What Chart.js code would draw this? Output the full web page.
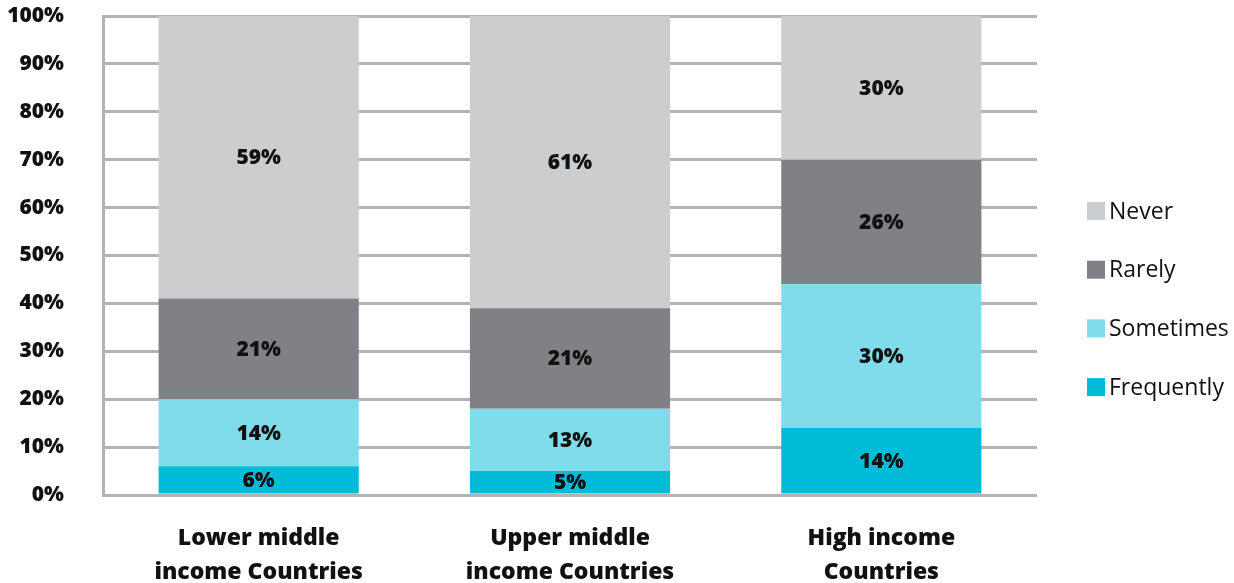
<!DOCTYPE html>
<html>
<head>
<meta charset="utf-8">
<script src="https://cdn.jsdelivr.net/npm/chart.js@4/dist/chart.umd.min.js"></script>
<style>
  html, body { margin: 0; padding: 0; background: #ffffff; }
  #wrap { width: 1234px; height: 583px; position: relative; }
</style>
</head>
<body>
<div id="wrap"><canvas id="c"></canvas></div>
<script>
const categories = [["Lower middle", "income Countries"], ["Upper middle", "income Countries"], ["High income", "Countries"]];
const frequently = [6, 5, 14];
const sometimes = [14, 13, 30];
const rarely = [21, 21, 26];
const never = [59, 61, 30];
const yTicks = [0, 10, 20, 30, 40, 50, 60, 70, 80, 90, 100];

const colors = {
  Frequently: '#00bcd9',
  Sometimes: '#80dcea',
  Rarely: '#808185',
  Never: '#cccdcf'
};
const gridColor = '#b2b3b7';
const FONT = '"Open Sans", "DejaVu Sans", sans-serif';

const barLabels = {
  id: 'barLabels',
  afterDatasetsDraw(chart) {
    const ctx = chart.ctx;
    ctx.save();
    ctx.font = '800 21px ' + FONT;
    ctx.fillStyle = '#111111';
    ctx.textAlign = 'center';
    ctx.textBaseline = 'middle';
    chart.data.datasets.forEach((ds, i) => {
      const meta = chart.getDatasetMeta(i);
      meta.data.forEach((el, j) => {
        const p = el.getProps(['x', 'y', 'base'], true);
        ctx.fillText(ds.data[j] + '%', p.x, (p.y + p.base) / 2 + 1);
      });
    });
    ctx.restore();
  }
};

const sideLegend = {
  id: 'sideLegend',
  afterDraw(chart) {
    const ctx = chart.ctx;
    const area = chart.chartArea;
    const items = chart.data.datasets.slice().reverse();
    const x0 = area.right + 50;
    const yStart = area.top + 195;
    const step = 58.7;
    const box = 18;
    ctx.save();
    ctx.font = '23px ' + FONT;
    ctx.textAlign = 'left';
    ctx.textBaseline = 'middle';
    items.forEach((ds, k) => {
      const cy = yStart + k * step;
      ctx.fillStyle = ds.backgroundColor;
      ctx.fillRect(x0, cy - box / 2, box, box);
      ctx.fillStyle = '#111111';
      ctx.fillText(ds.label, x0 + box + 4, cy + 1);
    });
    ctx.restore();
  }
};

const mk = (label, data) => ({
  label, data,
  backgroundColor: colors[label],
  borderWidth: 0,
  barPercentage: 1.0,
  categoryPercentage: 0.643
});

new Chart(document.getElementById('c'), {
  type: 'bar',
  data: {
    labels: categories,
    datasets: [
      mk('Frequently', frequently),
      mk('Sometimes', sometimes),
      mk('Rarely', rarely),
      mk('Never', never)
    ]
  },
  options: {
    responsive: true,
    maintainAspectRatio: false,
    animation: false,
    layout: { padding: { top: 16, right: 197, bottom: 0, left: 0 } },
    plugins: {
      legend: { display: false },
      tooltip: { enabled: false }
    },
    scales: {
      x: {
        stacked: true,
        grid: { display: false },
        border: { display: false },
        ticks: {
          color: '#111111',
          font: { family: FONT, size: 23, weight: '800', lineHeight: 1.5 },
          padding: 18,
          maxRotation: 0,
          autoSkip: false
        },
        afterFit(scale) { scale.height = 88; scale.paddingLeft = 0; scale.paddingRight = 0; }
      },
      y: {
        stacked: true,
        min: 0,
        max: 100,
        afterBuildTicks(scale) { scale.ticks = yTicks.map(v => ({ value: v })); },
        grid: { color: gridColor, lineWidth: 3, drawTicks: false },
        border: { display: true, color: gridColor, width: 3 },
        ticks: {
          color: '#111111',
          font: { family: FONT, size: 21, weight: '800' },
          padding: 39,
          callback: v => v + '%'
        },
        afterFit(scale) { scale.width = 103; scale.paddingTop = 0; scale.paddingBottom = 0; }
      }
    }
  },
  plugins: [barLabels, sideLegend]
});
</script>
</body>
</html>
